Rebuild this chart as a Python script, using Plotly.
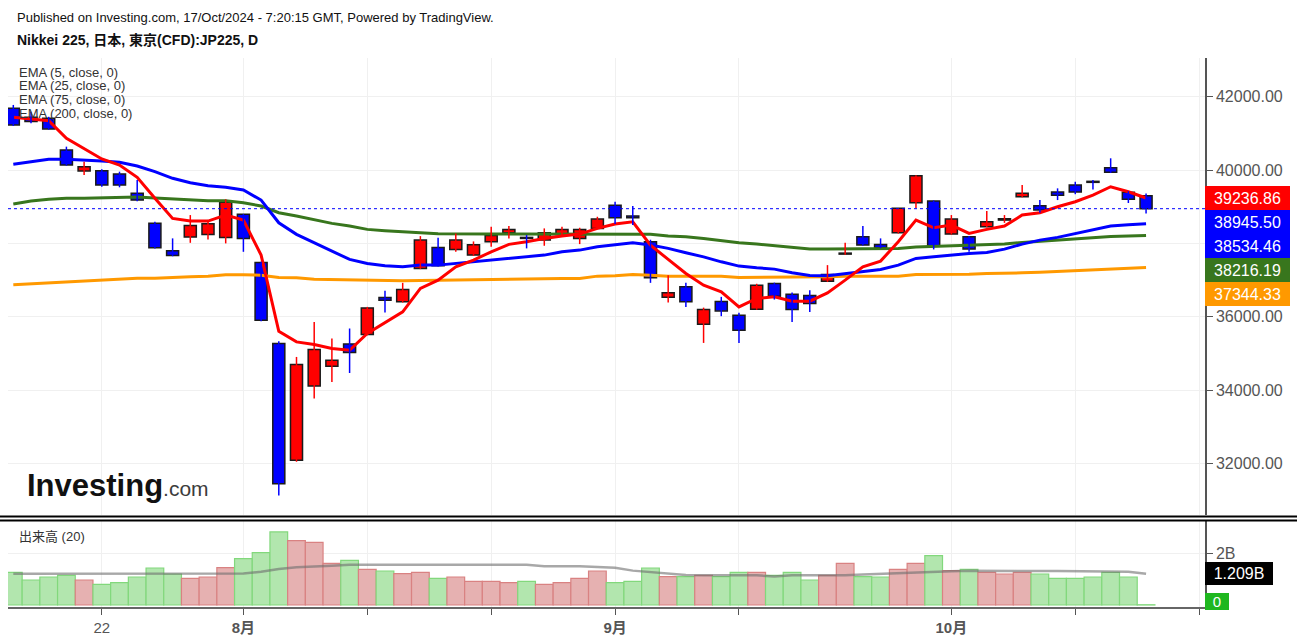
import plotly.graph_objects as go

# Nikkei 225 CFD daily, 12 Jul - 17 Oct 2024
dates = ["07-12", "07-16", "07-17", "07-18", "07-19", "07-22", "07-23", "07-24", "07-25", "07-26",
         "07-29", "07-30", "07-31", "08-01", "08-02", "08-05", "08-06", "08-07", "08-08", "08-09",
         "08-13", "08-14", "08-15", "08-16", "08-19", "08-20", "08-21", "08-22", "08-23", "08-26",
         "08-27", "08-28", "08-29", "08-30", "09-02", "09-03", "09-04", "09-05", "09-06", "09-09",
         "09-10", "09-11", "09-12", "09-13", "09-17", "09-18", "09-19", "09-20", "09-24", "09-25",
         "09-26", "09-27", "09-30", "10-01", "10-02", "10-03", "10-04", "10-07", "10-08", "10-09",
         "10-10", "10-11", "10-15", "10-16", "10-17"]

opens = [41683, 41440, 41410, 40546, 39973, 39981, 39891, 39364, 38546, 37798,
         38172, 38245, 38164, 38791, 37482, 35271, 32088, 34115, 34652, 35260,
         35517, 36527, 36407, 37318, 37891, 37836, 37681, 38044, 38289, 38163,
         38090, 38245, 38136, 38409, 39037, 38745, 38044, 36535, 36816, 35798,
         36417, 36044, 36207, 36908, 36617, 36581, 36971, 37708, 38181, 37972,
         38289, 39108, 39154, 38254, 38181, 38453, 38636, 39272, 39026, 39400,
         39591, 39691, 40064, 39391, 39299]
highs = [41773, 41590, 41450, 40636, 40226, 40020, 39955, 39727, 38590, 38137,
         38772, 38608, 39200, 38800, 37500, 35334, 34906, 35861, 35408, 35681,
         36270, 36707, 36925, 38199, 38153, 38272, 38054, 38453, 38472, 38227,
         38409, 38453, 38426, 38726, 39135, 39018, 38100, 37135, 36925, 36250,
         36543, 36107, 36900, 36930, 36663, 36726, 37408, 38016, 38472, 38137,
         38955, 39860, 39170, 38772, 38200, 38881, 38772, 39591, 39181, 39500,
         39680, 39727, 40319, 39420, 39360]
lows = [41200, 41275, 41100, 40120, 39864, 39545, 39528, 39150, 37864, 37650,
        38016, 38109, 38000, 37771, 35880, 31132, 32050, 33771, 34224, 34469,
        35500, 36117, 36390, 37300, 37370, 37771, 37660, 37907, 38136, 37864,
        37935, 38180, 37981, 38390, 38527, 38499, 36925, 36390, 36270, 35288,
        36017, 35288, 36190, 36470, 35861, 36134, 36950, 37690, 37940, 37870,
        38270, 38955, 37836, 38240, 37771, 38440, 38560, 39260, 38835, 39181,
        39340, 39470, 39920, 39100, 38818]
closes = [41228, 41320, 41119, 40136, 40091, 39591, 39591, 39181, 37880, 37672,
          38491, 38535, 39119, 38136, 35907, 31452, 34699, 35108, 34816, 35026,
          36243, 36453, 36743, 38090, 37389, 38090, 37962, 38218, 38382, 38136,
          38289, 38382, 38382, 38663, 38699, 38699, 37061, 36652, 36407, 36199,
          36161, 35634, 36862, 36562, 36199, 36363, 37154, 37735, 37954, 37880,
          38955, 39844, 37926, 38663, 37844, 38590, 38672, 39364, 38909, 39310,
          39400, 39664, 39937, 39200, 38945.50]

ema5 = [41438, 41392, 41345, 40865, 40592, 40300, 40136, 39801, 39228, 38682,
        38608, 38608, 38772, 38636, 37681, 35607, 35316, 35245, 35136, 35089,
        35544, 35834, 36134, 36772, 36999, 37362, 37544, 37771, 37973, 38044,
        38136, 38199, 38254, 38409, 38527, 38589, 37954, 37563, 37181, 36862,
        36679, 36270, 36499, 36543, 36426, 36426, 36652, 36999, 37362, 37517,
        38044, 38636, 38426, 38499, 38273, 38382, 38472, 38772, 38835, 38999,
        39135, 39318, 39544, 39408, 39236.86]
ema25 = [40156, 40226, 40292, 40292, 40273, 40246, 40210, 40109, 39954, 39774,
         39653, 39572, 39528, 39454, 39181, 38562, 38246, 38016, 37771, 37563,
         37454, 37389, 37362, 37408, 37408, 37454, 37498, 37563, 37607, 37653,
         37681, 37771, 37817, 37907, 37954, 38016, 37954, 37864, 37744, 37634,
         37498, 37381, 37334, 37299, 37198, 37127, 37116, 37181, 37244, 37291,
         37408, 37591, 37634, 37681, 37722, 37754, 37844, 37981, 38090, 38164,
         38273, 38363, 38472, 38507, 38534.46]
ema75 = [39072, 39154, 39201, 39228, 39228, 39236, 39263, 39263, 39236, 39209,
         39173, 39162, 39162, 39108, 39018, 38835, 38745, 38636, 38546, 38472,
         38382, 38344, 38308, 38289, 38262, 38254, 38254, 38254, 38254, 38254,
         38254, 38254, 38254, 38260, 38265, 38270, 38250, 38199, 38180, 38136,
         38071, 38016, 37981, 37935, 37891, 37850, 37844, 37844, 37844, 37850,
         37860, 37900, 37920, 37935, 37940, 37973, 37981, 38027, 38063, 38090,
         38136, 38164, 38190, 38200, 38216.19]
ema200 = [36870, 36898, 36925, 36952, 36971, 36999, 37034, 37053, 37053, 37061,
          37089, 37108, 37143, 37143, 37135, 37072, 37061, 37026, 37018, 36999,
          36990, 36980, 36980, 36990, 36999, 36999, 37007, 37018, 37026, 37034,
          37034, 37045, 37045, 37108, 37116, 37154, 37135, 37108, 37108, 37108,
          37108, 37072, 37072, 37072, 37072, 37072, 37089, 37108, 37108, 37108,
          37108, 37154, 37154, 37154, 37162, 37181, 37181, 37198, 37217, 37236,
          37252, 37271, 37299, 37320, 37344.33]

# volume in billions, and its 20-day average
volume_b = [1.265, 0.968, 1.084, 1.148, 0.968, 0.80, 0.865, 1.084, 1.432, 1.20,
            1.032, 1.084, 1.445, 1.794, 2.026, 2.826, 2.49, 2.426, 1.613, 1.729,
            1.381, 1.316, 1.213, 1.265, 1.032, 1.084, 0.916, 0.916, 0.865, 0.916,
            0.80, 0.865, 1.032, 1.316, 0.865, 0.916, 1.432, 1.097, 1.097, 1.148,
            1.097, 1.265, 1.265, 1.148, 1.265, 0.968, 1.148, 1.613, 1.097, 1.084,
            1.381, 1.613, 1.910, 1.329, 1.381, 1.265, 1.20, 1.265, 1.20, 1.032,
            1.032, 1.084, 1.265, 1.084, 0.01]
vol_ma_b = [1.213, 1.213, 1.213, 1.213, 1.213, 1.213, 1.213, 1.213, 1.213, 1.213,
            1.213, 1.213, 1.213, 1.22, 1.29, 1.39, 1.46, 1.48, 1.52, 1.56,
            1.56, 1.56, 1.56, 1.56, 1.56, 1.56, 1.56, 1.56, 1.56, 1.56,
            1.50, 1.50, 1.50, 1.47, 1.445, 1.33, 1.28, 1.21, 1.16, 1.15,
            1.15, 1.15, 1.15, 1.10, 1.15, 1.15, 1.15, 1.15, 1.18, 1.21,
            1.225, 1.25, 1.28, 1.31, 1.325, 1.316, 1.316, 1.316, 1.316, 1.316,
            1.316, 1.316, 1.316, 1.29, 1.209]

tick_idx = [5, 13, 20, 27, 34, 41, 53, 60, 67]
tick_text = ["22", "<b>8月</b>", "", "", "<b>9月</b>", "", "<b>10月</b>", "", ""]
price_ticks = [32000, 34000, 36000, 38000, 40000, 42000]

RED, BLUE, GREEN, ORANGE = "#ff0000", "#0000ff", "#38761d", "#ff9900"
FONT = "Arial, 'Liberation Sans', 'Noto Sans CJK JP', sans-serif"

# pixel frame of the plotting area inside the 1297x644 page
W, H = 1297, 644
PL, PR, PT, PB = 8, 1205, 58, 607
MAIN_BOT, VOL_TOP = 515, 521
X_RANGE = [-0.3, 67.33]
Y_RANGE = [30599, 43052]
V_RANGE = [-0.077, 3.25]


def px_x(px):
    return (px - PL) / (PR - PL)


def px_y(py):
    return (PB - py) / (PB - PT)


def price_px(p):
    return PT + (Y_RANGE[1] - p) / (Y_RANGE[1] - Y_RANGE[0]) * (MAIN_BOT - PT)


def vol_px(v):
    return VOL_TOP + (V_RANGE[1] - v) / (V_RANGE[1] - V_RANGE[0]) * (PB - VOL_TOP)


idx = list(range(len(dates)))
up = [c >= o for o, c in zip(opens, closes)]

fig = go.Figure()

# moving averages under the candles
for vals, col in [(ema200, ORANGE), (ema75, GREEN), (ema25, BLUE), (ema5, RED)]:
    fig.add_trace(go.Scatter(x=idx, y=vals, mode="lines",
                             line=dict(color=col, width=3), xaxis="x", yaxis="y"))

# wicks
for flag, col in [(True, RED), (False, BLUE)]:
    wx, wy = [], []
    for i in idx:
        if up[i] == flag:
            wx += [i, i, None]
            wy += [lows[i], highs[i], None]
    fig.add_trace(go.Scatter(x=wx, y=wy, mode="lines", line=dict(color=col, width=1.5),
                             xaxis="x", yaxis="y"))

# candle bodies
fig.add_trace(go.Bar(
    x=idx, base=[min(o, c) for o, c in zip(opens, closes)],
    y=[abs(c - o) for o, c in zip(opens, closes)],
    width=0.68,
    marker=dict(color=[RED if u else BLUE for u in up], line=dict(color="#1a1a1a", width=1.5)),
    xaxis="x", yaxis="y"))

# volume
fig.add_trace(go.Bar(
    x=idx, y=volume_b, width=1.0,
    marker=dict(color=["#e6b1b1" if u else "#b2e6ae" for u in up],
                line=dict(color=["#d98282" if u else "#82d87c" for u in up], width=1.2)),
    xaxis="x2", yaxis="y2"))
fig.add_trace(go.Scatter(x=idx, y=vol_ma_b, mode="lines",
                         line=dict(color="rgba(110,110,110,0.6)", width=2.5),
                         xaxis="x2", yaxis="y2"))

grid = "#f0f0f0"
axis_font = dict(family=FONT, size=16, color="#555555")
fig.update_layout(
    width=W, height=H, template="none",
    margin=dict(l=PL, r=W - PR, t=PT, b=H - PB, pad=0),
    paper_bgcolor="white", plot_bgcolor="white",
    showlegend=False, hovermode=False, barmode="overlay",
    font=dict(family=FONT, size=13, color="#222"),
    xaxis=dict(domain=[0, 1], range=X_RANGE, anchor="y", tickvals=tick_idx,
               showticklabels=False, ticks="", showgrid=True, gridcolor=grid,
               zeroline=False, showline=False, automargin=False),
    yaxis=dict(domain=[px_y(MAIN_BOT), 1], range=Y_RANGE, side="right", anchor="x",
               tickvals=price_ticks, tickformat=".2f", ticks="outside", ticklen=6,
               tickcolor="#555", tickfont=axis_font, showgrid=True, gridcolor=grid,
               zeroline=False, showline=True, linecolor="#555", linewidth=1.5,
               automargin=False),
    xaxis2=dict(domain=[0, 1], range=X_RANGE, anchor="y2", matches="x",
                tickvals=tick_idx, ticktext=tick_text, ticks="outside", ticklen=6,
                tickcolor="#555", tickfont=dict(family=FONT, size=15, color="#555"),
                showgrid=True, gridcolor=grid, zeroline=False, showline=True,
                linecolor="#666", linewidth=1.5, automargin=False),
    yaxis2=dict(domain=[0, px_y(VOL_TOP)], range=V_RANGE, side="right", anchor="x2",
                tickvals=[2], ticktext=["2B"], ticks="outside", ticklen=6,
                tickcolor="#555", tickfont=axis_font, showgrid=True, gridcolor=grid,
                zeroline=False, showline=True, linecolor="#555", linewidth=1.5,
                automargin=False),
)

# last-price dotted line
fig.add_shape(type="line", xref="x", yref="y", x0=X_RANGE[0], x1=X_RANGE[1],
              y0=closes[-1], y1=closes[-1], line=dict(color=BLUE, width=1, dash="dot"))

# pane separator
for py, x1 in [(516.5, W), (520.5, W)]:
    fig.add_shape(type="line", xref="paper", yref="paper",
                  x0=px_x(0), x1=px_x(x1), y0=px_y(py), y1=px_y(py),
                  line=dict(color="black", width=2))

annos = []


def text_at(px, py, text, size=13, color="#222", anchor="left"):
    annos.append(dict(xref="paper", yref="paper", x=px_x(px), y=px_y(py), text=text,
                      showarrow=False, xanchor=anchor, yanchor="middle",
                      font=dict(family=FONT, size=size, color=color)))


text_at(15, 17, "Published on Investing.com, 17/Oct/2024 - 7:20:15 GMT, Powered by TradingView.",
        size=13, color="#111")
text_at(15, 40, "<b>Nikkei 225, 日本, 東京(CFD):JP225, D</b>", size=14, color="#111")
for k, name in enumerate(["EMA (5, close, 0)", "EMA (25, close, 0)",
                          "EMA (75, close, 0)", "EMA (200, close, 0)"]):
    text_at(17, 72 + 14 * k, name, size=13, color="#333")
text_at(17, 536, "出来高 (20)", size=13, color="#333")
text_at(25, 485, "<b>Investing</b><span style='font-size:21px;color:#3c3c3c'>.com</span>",
        size=31, color="#111")

# value tags on the price scale, stacked so they do not overlap
tags = [(ema5[-1], RED), (closes[-1], RED if up[-1] else BLUE), (ema25[-1], BLUE),
        (ema75[-1], GREEN), (ema200[-1], ORANGE)]
tags.sort(key=lambda t: -t[0])
prev = -1e9
for val, col in tags:
    cy = max(price_px(val), prev + 24)
    prev = cy
    annos.append(dict(xref="paper", yref="paper", x=1, y=px_y(cy), xanchor="left",
                      yanchor="middle", text=f"{val:.2f}", showarrow=False,
                      bgcolor=col, width=79, height=18, borderpad=2, borderwidth=1,
                      bordercolor=col, align="center",
                      font=dict(family=FONT, size=16, color="white")))

annos.append(dict(xref="paper", yref="paper", x=1, y=px_y(vol_px(vol_ma_b[-1])),
                  xanchor="left", yanchor="middle", text=f"{vol_ma_b[-1]:.3f}B",
                  showarrow=False, bgcolor="black", width=62, height=17, borderpad=2,
                  borderwidth=1, bordercolor="black",
                  font=dict(family=FONT, size=16, color="white")))
annos.append(dict(xref="paper", yref="paper", x=1, y=px_y(601), xanchor="left",
                  yanchor="middle", text=f"{volume_b[-1]:.0f}", showarrow=False,
                  bgcolor="#1fb71f", width=20, height=13, borderpad=1, borderwidth=1,
                  bordercolor="#1fb71f", font=dict(family=FONT, size=15, color="white")))

fig.update_layout(annotations=annos)

fig.write_html("out.html", config={"displayModeBar": False},
               post_script="document.body.style.margin='0';")
